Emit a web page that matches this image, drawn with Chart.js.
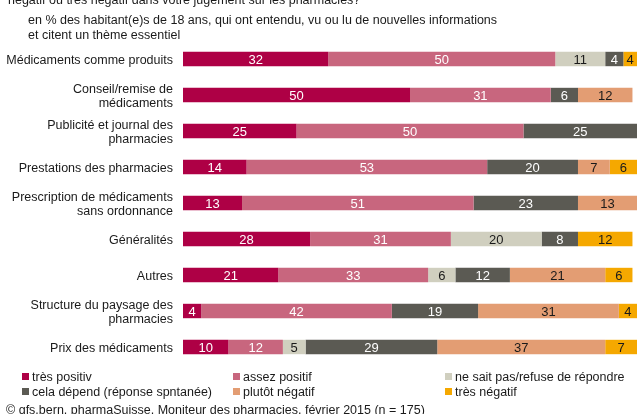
<!DOCTYPE html>
<html>
<head>
<meta charset="utf-8">
<script src="https://cdn.jsdelivr.net/npm/chart.js@4.4.1/dist/chart.umd.min.js"></script>
<style>
  html, body { margin: 0; padding: 0; background: #fff; }
  #wrap { position: relative; width: 637px; height: 414px; }
</style>
</head>
<body>
<div id="wrap"><canvas id="myChart" width="637" height="414"></canvas></div>
<script>
// categories (top to bottom)
const categories = [
    'Médicaments comme produits',
    ['Conseil/remise de', 'médicaments'],
    ['Publicité et journal des', 'pharmacies'],
    'Prestations des pharmacies',
    ['Prescription de médicaments', 'sans ordonnance'],
    'Généralités',
    'Autres',
    ['Structure du paysage des', 'pharmacies'],
    'Prix des médicaments'
];

// series values in %
const tresPositiv   = [32, 50, 25, 14, 13, 28, 21, 4, 10];
const assezPositif  = [50, 31, 50, 53, 51, 31, 33, 42, 12];
const neSaitPas     = [11, 0, 0, 0, 0, 20, 6, 0, 5];
const celaDepend    = [4, 6, 25, 20, 23, 8, 12, 19, 29];
const plutotNegatif = [0, 12, 0, 7, 13, 0, 21, 31, 37];
const tresNegatif   = [4, 0, 0, 6, 0, 12, 6, 4, 7];

const seriesNames = ['très positiv', 'assez positif', 'ne sait pas/refuse de répondre',
    'cela dépend (réponse spntanée)', 'plutôt négatif', 'très négatif'];
const colors = ['#AE0045', '#C8667E', '#D0CFBF', '#5B5A53', '#E39D73', '#F5A800'];
const labelColors = ['#fff', '#fff', '#1a1a1a', '#fff', '#1a1a1a', '#1a1a1a'];

const FONT = '"Liberation Sans", Arial, sans-serif';

const allSeries = [tresPositiv, assezPositif, neSaitPas, celaDepend, plutotNegatif, tresNegatif];

// texts around the chart + legend + value labels
const decorPlugin = {
    id: 'decor',
    afterDatasetsDraw(chart) {
        const c = chart.ctx;
        c.save();
        // value labels
        c.font = '13px ' + FONT;
        c.textAlign = 'center';
        c.textBaseline = 'middle';
        chart.data.datasets.forEach((ds, i) => {
            const meta = chart.getDatasetMeta(i);
            meta.data.forEach((bar, j) => {
                const v = ds.data[j];
                if (!v) return;
                const left = Math.min(bar.base, bar.x);
                const right = Math.min(Math.max(bar.base, bar.x), chart.chartArea.right);
                c.fillStyle = labelColors[i];
                c.fillText(String(v), (left + right) / 2, bar.y + 1);
            });
        });
        c.restore();
    },
    afterDraw(chart) {
        const c = chart.ctx;
        c.save();
        c.fillStyle = '#1a1a1a';
        c.textBaseline = 'alphabetic';
        c.textAlign = 'left';
        c.font = '12.5px ' + FONT;
        c.fillText('négatif ou très négatif dans votre jugement sur les pharmacies?', 8, 4);
        c.fillText('en % des habitant(e)s de 18 ans, qui ont entendu, vu ou lu de nouvelles informations', 28, 24);
        c.fillText('et citent un thème essentiel', 28, 39);

        // legend in 3 columns
        const colX = [22, 233, 445];
        const rowY = [378, 393];
        chart.data.datasets.forEach((ds, i) => {
            const x = colX[i % 3];
            const y = rowY[Math.floor(i / 3)];
            c.fillStyle = ds.backgroundColor;
            c.fillRect(x, y - 5, 7, 7);
            c.fillStyle = '#1a1a1a';
            c.textBaseline = 'middle';
            c.fillText(ds.label, x + 10, y);
        });

        c.textBaseline = 'alphabetic';
        c.fillText('© gfs.bern, pharmaSuisse, Moniteur des pharmacies, février 2015 (n = 175)', 6, 414);
        c.restore();
    }
};

const ctx = document.getElementById('myChart').getContext('2d');
new Chart(ctx, {
    type: 'bar',
    data: {
        labels: categories,
        datasets: allSeries.map((d, i) => ({
            label: seriesNames[i],
            data: d,
            backgroundColor: colors[i],
            borderWidth: 0,
            categoryPercentage: 1,
            barPercentage: 0.4
        }))
    },
    options: {
        indexAxis: 'y',
        responsive: false,
        animation: false,
        layout: { padding: { top: 41, bottom: 49, left: 0, right: 0 } },
        plugins: {
            legend: { display: false },
            tooltip: { enabled: false }
        },
        scales: {
            x: {
                stacked: true,
                min: 0,
                max: 100,
                display: false
            },
            y: {
                stacked: true,
                grid: { display: false },
                border: { display: false },
                ticks: {
                    color: '#1a1a1a',
                    font: { family: FONT, size: 12.5, lineHeight: 1.15 },
                    padding: 2,
                    labelOffset: 1.5,
                    autoSkip: false
                },
                afterFit(scale) { scale.width = 183; }
            }
        }
    },
    plugins: [decorPlugin]
});
</script>
</body>
</html>
